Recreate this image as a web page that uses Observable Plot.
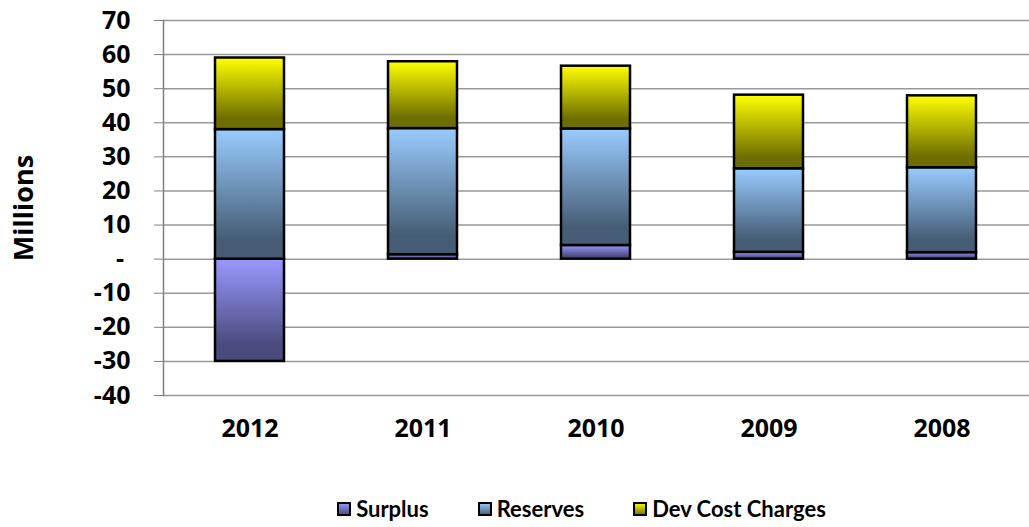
<!DOCTYPE html>
<html>
<head>
<meta charset="utf-8">
<script src="https://cdn.jsdelivr.net/npm/d3@7"></script>
<script src="https://cdn.jsdelivr.net/npm/@observablehq/plot@0.6"></script>
<style>
  html, body { margin: 0; padding: 0; background: #fff; }
  #chart { width: 1029px; }
  .legend { display: flex; justify-content: center; align-items: center; height: 47px;
    font-family: Lato, "Open Sans", sans-serif; font-weight: 700; font-size: 22px; color: #000;
    padding-left: 134px; padding-top: 10px; box-sizing: border-box; }
  .legend .item { display: flex; align-items: center; margin: 0 24.5px; }
  .legend svg { margin-right: 5px; }
</style>
</head>
<body>
<div id="chart"></div>
<script>
const years = ["2012", "2011", "2010", "2009", "2008"];
const series = ["Surplus", "Reserves", "Dev Cost Charges"];
const surplus = [-30, 1.3, 4.0, 2.0, 1.9];
const reserves = [38.0, 37.0, 34.2, 24.5, 24.9];
const devCost = [21.0, 19.6, 18.4, 21.6, 21.1];
const yTicks = [-40, -30, -20, -10, 0, 10, 20, 30, 40, 50, 60, 70];

const gradients = [
  {id: "gSurplus", top: "#9999FF", bottom: "#4A4A7C"},
  {id: "gReserves", top: "#99CCFF", bottom: "#465D75"},
  {id: "gDev", top: "#FFFF00", bottom: "#6E6E00"}
];

const data = [];
years.forEach((yr, i) => {
  data.push({year: yr, series: series[0], value: surplus[i]});
  data.push({year: yr, series: series[1], value: reserves[i]});
  data.push({year: yr, series: series[2], value: devCost[i]});
});

const font = "'Open Sans', sans-serif";

const chart = Plot.plot({
  width: 1029,
  height: 480,
  marginLeft: 163,
  marginRight: 0,
  marginTop: 20,
  marginBottom: 85,
  style: {fontFamily: font, fontWeight: 700, fontSize: "25px", color: "#000", background: "#fff"},
  x: {domain: years, paddingInner: 0.6, paddingOuter: 0.3},
  y: {domain: [-40, 70]},
  color: {domain: series, range: gradients.map(g => `url(#${g.id})`)},
  marks: [
    Plot.gridY(yTicks, {stroke: "#999", strokeOpacity: 1, strokeWidth: 1.5}),
    Plot.frame({anchor: "left", stroke: "#808080", strokeWidth: 1.5}),
    Plot.axisY(yTicks, {
      tickSize: 9, tickPadding: 24, stroke: "#808080",
      tickFormat: d => d === 0 ? "-\u00A0" : String(d),
      label: null, fontSize: 25
    }),
    Plot.axisY({
      ticks: [], tickSize: 0,
      label: "Millions", labelAnchor: "center", labelArrow: "none", labelOffset: 150,
      fontSize: 27
    }),
    Plot.axisX({tickSize: 0, tickPadding: 24, label: null, fontSize: 25}),
    Plot.barY(data, {x: "year", y: "value", fill: "series", stroke: "#000", strokeWidth: 2.5})
  ]
});

const defs = gradients.map(g =>
  `<linearGradient id="${g.id}" x1="0" y1="0" x2="0" y2="1">
     <stop offset="0" stop-color="${g.top}"/>
     <stop offset="0.85" stop-color="${g.bottom}"/>
     <stop offset="1" stop-color="${g.bottom}"/>
   </linearGradient>`).join("");
chart.insertAdjacentHTML("afterbegin", `<defs>${defs}</defs>`);

document.getElementById("chart").appendChild(chart);

const legend = document.createElement("div");
legend.className = "legend";
series.forEach((s, i) => {
  const g = gradients[i];
  const item = document.createElement("div");
  item.className = "item";
  item.innerHTML = `<svg width="14" height="14"><defs><linearGradient id="l${g.id}" x1="0" y1="0" x2="0" y2="1"><stop offset="0" stop-color="${g.top}"/><stop offset="1" stop-color="${g.bottom}"/></linearGradient></defs><rect x="1" y="1" width="12" height="12" fill="url(#l${g.id})" stroke="#000" stroke-width="2"/></svg><span>${s}</span>`;
  legend.appendChild(item);
});
document.getElementById("chart").appendChild(legend);
</script>
</body>
</html>
